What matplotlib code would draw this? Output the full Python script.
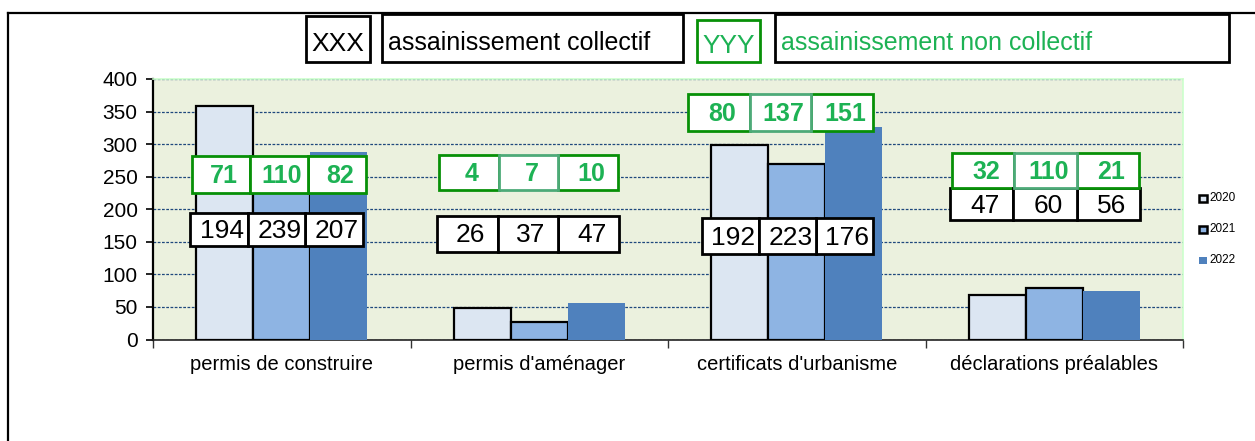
import matplotlib
matplotlib.use("Agg")
import matplotlib.pyplot as plt
from matplotlib.patches import Rectangle
from matplotlib.lines import Line2D
import numpy as np

plt.rcParams['font.family'] = ['Liberation Sans', 'DejaVu Sans']

categories = ["permis de construire", "permis d'aménager",
              "certificats d'urbanisme", "déclarations préalables"]
years = ["2020", "2021", "2022"]
v2020 = [358, 48, 298, 68]
v2021 = [250, 27, 270, 79]
v2022 = [288, 56, 326, 75]
collectif = [[194, 239, 207], [26, 37, 47], [192, 223, 176], [47, 60, 56]]
non_collectif = [[71, 110, 82], [4, 7, 10], [80, 137, 151], [32, 110, 21]]
yticks = [0, 50, 100, 150, 200, 250, 300, 350, 400]

colors = ["#DCE6F2", "#8EB4E3", "#4F81BD"]
GREEN_EDGE = "#079007"
GREEN_TXT = "#1DB254"

W, H = 1255, 441
fig = plt.figure(figsize=(W / 100, H / 100), dpi=100)

# figure border (top and left)
fig.add_artist(Line2D([8 / W, 1], [1 - 13 / H, 1 - 13 / H], transform=fig.transFigure, color="black", lw=1.6))
fig.add_artist(Line2D([8 / W, 8 / W], [0, 1 - 13 / H], transform=fig.transFigure, color="black", lw=1.6))

ax = fig.add_axes([153 / W, 1 - 339.5 / H, (1183 - 153) / W, (339.5 - 79) / H])
ax.set_facecolor("#EBF1DE")
ax.set_xlim(-0.5, 3.5)
ax.set_ylim(0, 400)

bw = 0.222
x = np.arange(len(categories))
series = [v2020, v2021, v2022]
for i, (vals, c) in enumerate(zip(series, colors)):
    ec = "black" if i < 2 else c
    lw = 1.6 if i < 2 else 0
    ax.bar(x + (i - 1) * bw, vals, width=bw, color=c, edgecolor=ec, linewidth=lw, zorder=3)

ax.set_yticks(yticks)
ax.set_yticklabels([str(t) for t in yticks], fontsize=15)
ax.yaxis.grid(True, linestyle=(0, (2.2, 1.2)), color="#1F497D", linewidth=0.9, zorder=1)
ax.set_axisbelow(True)
ax.set_xticks(x)
ax.set_xticklabels(categories, fontsize=14.5)
ax.tick_params(axis="x", which="major", length=0, pad=11)
ax.set_xticks(np.arange(-0.5, 4.0, 1.0), minor=True)
ax.tick_params(axis="x", which="minor", length=6, width=1, color="#333333", direction="out")
ax.tick_params(axis="y", length=5, width=1.2, direction="out", pad=6)
for s in ["top", "right"]:
    ax.spines[s].set_color("#CCFFCC")
    ax.spines[s].set_linewidth(1.2)
ax.spines["left"].set_linewidth(1.6)
ax.spines["left"].set_color("black")
ax.spines["bottom"].set_color("#222222")
ax.spines["bottom"].set_linewidth(1.2)

# label box layout: (center offset, total width, y bottom, y top)
black_layout = [(-0.02, 0.672, 143, 195), (-0.044, 0.707, 135, 189),
                (-0.036, 0.664, 131, 186), (-0.036, 0.738, 183, 232)]
green_layout = [(-0.011, 0.676, 225, 281), (-0.042, 0.695, 229, 283),
                (-0.063, 0.718, 320, 377), (-0.034, 0.726, 232, 286)]


def draw_boxes(gi, layout, values, edge, txtcol, bold, mid_edge=None):
    off, tw, y0, y1 = layout
    left = gi + off - tw / 2
    cw = tw / 3
    for k, v in enumerate(values):
        ec = edge if (mid_edge is None or k != 1) else mid_edge
        ax.add_patch(Rectangle((left + k * cw, y0), cw, y1 - y0, facecolor="white",
                               edgecolor=ec, linewidth=2.0, zorder=5 if k != 1 else 6))
        ax.text(left + (k + 0.55) * cw, (y0 + y1) / 2 - 2, str(v), ha="center", va="center",
                fontsize=19 if not bold else 18, color=txtcol,
                fontweight="bold" if bold else "normal", zorder=7)


for gi in range(len(categories)):
    draw_boxes(gi, black_layout[gi], collectif[gi], "black", "black", False)
    draw_boxes(gi, green_layout[gi], non_collectif[gi], GREEN_EDGE, GREEN_TXT, True,
               mid_edge=None if gi == 0 else "#4DAA78")

# top legend boxes
def fig_box(x0, y0, x1, y1, ec, text, tc, fs, ha="center", tx=None):
    fig.add_artist(Rectangle((x0 / W, 1 - y1 / H), (x1 - x0) / W, (y1 - y0) / H,
                             transform=fig.transFigure, facecolor="white", edgecolor=ec, linewidth=2.0))
    if tx is None:
        tx = (x0 + x1) / 2
    fig.text(tx / W, 1 - (y0 + y1) / 2 / H - 0.012, text, ha=ha, va="center", fontsize=fs, color=tc)

fig_box(306, 16, 370, 62, "black", "XXX", "black", 19)
fig_box(382, 14, 683, 62, "black", "assainissement collectif", "black", 18, ha="left", tx=388)
fig_box(697, 20, 760, 62, GREEN_EDGE, "YYY", GREEN_TXT, 19)
fig_box(775, 14, 1229, 62, "black", "assainissement non collectif", GREEN_TXT, 18, ha="left", tx=781)

# right legend
leg_y = [198, 229, 260]
for i, (yr, c) in enumerate(zip(years, colors)):
    ec = "black" if i < 2 else c
    fig.add_artist(Rectangle((1199 / W, 1 - (leg_y[i] + 4) / H), 8 / W, 7 / H, transform=fig.transFigure,
                             facecolor=c, edgecolor=ec, linewidth=1.8 if i < 2 else 0))
    fig.text(1209 / W, 1 - leg_y[i] / H, yr, ha="left", va="center", fontsize=8.5, color="black")

fig.savefig("out.png", dpi=100)
